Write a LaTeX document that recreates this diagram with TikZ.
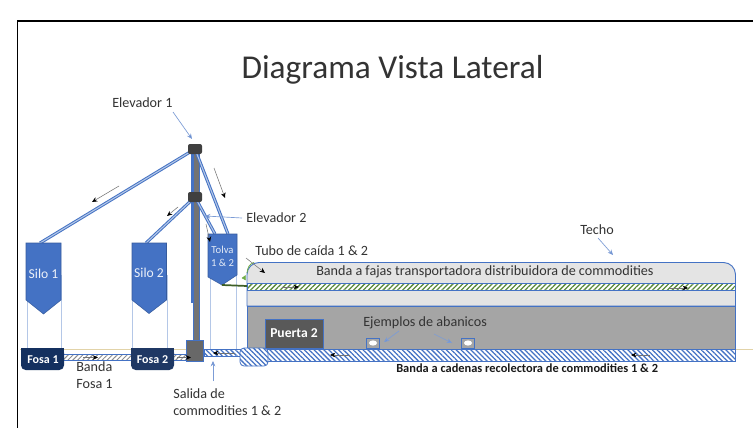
\documentclass[tikz,border=0pt]{standalone}
\usepackage{fontspec}
\setmainfont{Carlito}
\usetikzlibrary{patterns.meta,arrows.meta}
\definecolor{bl}{HTML}{4472C4}
\definecolor{lbl}{HTML}{B4C7E7}
\definecolor{dk}{HTML}{1F3864}
\definecolor{nv}{HTML}{14305F}
\definecolor{gr}{HTML}{A5A5A5}
\definecolor{lg}{HTML}{E4E4E4}
\definecolor{dg}{HTML}{595959}
\definecolor{grn}{HTML}{70AD47}
\definecolor{tanl}{HTML}{E2D3A8}
\tikzset{
 x=0.75pt,y=-0.75pt,
 lab/.style={font=\fontsize{10.6}{12.5}\selectfont,text=black!80,inner sep=0pt,align=left},
 lab2/.style={font=\fontsize{10.6}{12.6}\selectfont,text=black!80,inner sep=0pt,align=left},
 leader/.style={draw=bl!70,line width=.5pt,-{Stealth[length=4pt,width=3.5pt,fill=bl]}},
 flow/.style={draw=black!55,line width=.4pt,-{Stealth[length=4pt,width=3.5pt,black]}},
 hatchblue/.style={pattern={Lines[angle=-45,distance=2.6pt,line width=.95pt]},pattern color=bl},
 hatchgreen/.style={pattern={Lines[angle=45,distance=2.6pt,line width=.95pt]},pattern color=grn!80!black},
 hatchgray/.style={pattern={Lines[angle=45,distance=2.6pt,line width=.7pt]},pattern color=black!45},
 siloshape/.style={fill=bl,draw=bl!80!black,line width=.4pt},
 guide/.style={draw=lbl,line width=.5pt},
 fosatxt/.style={text=white,font=\fontsize{9}{10}\selectfont\bfseries,inner sep=0pt},
}
\begin{document}
\begin{tikzpicture}
\useasboundingbox (0,0) rectangle (753,428);
\fill[white] (0,0) rectangle (753,428);
\draw[black,line width=1.1pt] (17.5,428) -- (17.5,21) -- (753,21);
\draw[tanl,line width=.6pt] (20,349) -- (753,349);
% building
\draw[bl,fill=lg,line width=.7pt] (247,306) [rounded corners=9pt] -- (247,262.5) -- (735.5,262.5) [sharp corners] -- (735.5,306) -- cycle;
\draw[bl,fill=gr,line width=.7pt] (247,306) rectangle (735.5,349);
\fill[white] (247,283.5) rectangle (735.5,290);
\draw[bl,line width=.7pt,hatchgreen] (247,283.5) rectangle (735.5,290);
\node[fill=dg,draw=bl,line width=.5pt,minimum width=43.5pt,minimum height=21.75pt,inner sep=0pt,text=white,font=\fontsize{10.2}{11}\selectfont\bfseries] (p2) at (294,333.5) {Puerta 2};
% guides
\foreach \x in {27,61,132,167,210,236} \draw[guide] (\x,275) -- (\x,349);
% elevator
\draw[bl,fill=gr!70!black,line width=.6pt] (193,150) rectangle (199.7,342);
\fill[bl] (191,150) rectangle (193,303);
\coordinate (e1) at (195,149);\coordinate (e2) at (195,197);
\coordinate (s1) at (40,243);\coordinate (s2) at (146,243);
\coordinate (t1) at (228,234);\coordinate (t2) at (215,234);
\foreach \a/\b in {e1/s1,e2/s2,e1/t1,e2/t2}{
 \draw[bl,line width=2.3pt] (\a) -- (\b);
 \draw[lbl,line width=.8pt] (\a) -- (\b);
}
\fill[black!75,rounded corners=1.5pt] (188,144) rectangle (202,154);
\fill[black!75,rounded corners=1.5pt] (188,192) rectangle (202,202);
% silos
\path[siloshape] (26,243) -- (61,243) -- (61,300) -- (43.5,314) -- (26,300) -- cycle;
\node[text=white!90!bl,font=\fontsize{10.2}{12}\selectfont,inner sep=0pt] (silo1) at (43.5,274) {Silo 1};
\path[siloshape] (132,243) -- (166.5,243) -- (166.5,300) -- (149,313.5) -- (132,300) -- cycle;
\node[text=white!90!bl,font=\fontsize{10.2}{12}\selectfont,inner sep=0pt] (silo2) at (149,273) {Silo 2};
\path[siloshape] (208,234) -- (237,234) -- (237,275) -- (222,285) -- (208,277) -- cycle;
\node[text=white!85!bl,font=\fontsize{8}{9.8}\selectfont,align=center,inner sep=0pt] (tolva) at (222.5,256.5) {Tolva\\1 \& 2};
% drop tube
\draw[grn!55!black,line width=1.3pt] (222,285) -- (247,286);
\draw[grn,line width=.6pt] (254,262.5) .. controls (249,264) and (247.5,268) .. (247,273);
\draw[grn,fill=grn,line width=.3pt] (245.5,275.5) -- (245.5,280) -- (242,278) -- cycle;
% lower conveyors
\fill[white] (62,354) rectangle (186,360);
\draw[bl,line width=.6pt,hatchgray] (62,354) rectangle (132,360);
\draw[bl,line width=.6pt,hatchgray] (172,354) rectangle (187,360);
\fill[white] (204,349) rectangle (242,356);
\draw[bl,line width=.7pt,hatchblue] (204,349) rectangle (242,356);
\fill[white] (266,349) rectangle (735.5,361);
\draw[bl,line width=.7pt,hatchblue] (266,349) rectangle (735.5,361);
\fill[white,rounded corners=3pt] (240,348) rectangle (268,366);
\draw[bl,line width=.6pt,rounded corners=3pt,hatchblue] (240,348) rectangle (268,366);
% fosas
\fill[nv,rounded corners=3.5pt] (21,348) rectangle (64,370);
\fill[nv] (21,348) rectangle (64,358);
\node[fosatxt] (f1) at (43,359.5) {Fosa 1};
\fill[dk,rounded corners=3.5pt] (131,348) rectangle (174,370);
\fill[dk] (131,348) rectangle (174,358);
\node[fosatxt] (f2) at (152.5,359.5) {Fosa 2};
% elevator foot
\node[draw=bl,fill=dg!80!gr,line width=.7pt,minimum width=13.2pt,minimum height=15.7pt,inner sep=0pt] (foot) at (195,350.5) {};
% fans
\foreach \n/\x in {fa/373,fb/468}{
 \node[draw=bl,fill=gr,line width=.6pt,minimum width=10.2pt,minimum height=7.5pt,inner sep=0pt] (\n) at (\x,343) {};
 \fill[white] (\x,343) ellipse (4 and 2.6);
}
% flow arrows
\draw[flow] (119,186) -- (92,202);
\draw[flow] (178,207) -- (167,216);
\draw[flow] (214,168) -- (225,198);
\draw[flow] (206,224) -- (210,242);
\draw[flow] (83,357.5) -- (98,357.5);
\draw[flow] (177,357.5) -- (191,357.5);
\draw[flow] (235,353) -- (213,353);
\draw[flow] (350,355) -- (330,355);
\draw[flow] (650,355) -- (631,355);
\draw[flow] (282,287) -- (299,287);
\draw[flow] (670,288) -- (688,288);
\draw[flow] (246,258) -- (265,273);
% labels
\node[lab,anchor=west] (el1) at (112,102.5) {Elevador 1};
\node[lab,anchor=west] (el2) at (246,218) {Elevador 2};
\node[lab,anchor=west] (tubo) at (255,251) {Tubo de caída 1 \& 2};
\node[lab,anchor=west] (techo) at (580,230) {Techo};
\node[lab2,anchor=west] (bf) at (76,375) {Banda\\Fosa 1};
\node[lab2,anchor=west] (sal) at (173,402.5) {Salida de\\commodities 1 \& 2};
\node[lab,anchor=west] (eja) at (363,322.5) {Ejemplos de abanicos};
\node[lab,anchor=west] (bt) at (316,272) {Banda a fajas transportadora distribuidora de commodities};
\node[anchor=west,inner sep=0pt,font=\fontsize{9.3}{10}\selectfont\bfseries,text=black!90] (bc) at (396,368) {Banda a cadenas recolectora de commodities 1 \& 2};
\node[font=\fontsize{25}{30}\selectfont,text=black!80,inner sep=0pt] (title) at (392.5,70) {Diagrama Vista Lateral};
% leaders
\coordinate (le1a) at (173,112);\coordinate (le1b) at (192,139);
\coordinate (le2a) at (242,218);\coordinate (le2b) at (205,216);
\coordinate (lsa) at (213,381);\coordinate (lsb) at (213,361);
\coordinate (lta) at (598,238);\coordinate (ltb) at (613,255);
\coordinate (lfa) at (399,331);\coordinate (lfb) at (384,342);
\coordinate (lga) at (434,334);\coordinate (lgb) at (452,343);
\draw[leader] (le1a) -- (le1b);
\draw[leader] (le2a) -- (le2b);
\draw[leader] (lsa) -- (lsb);
\draw[leader] (lta) -- (ltb);
\draw[leader] (lfa) -- (lfb);
\draw[leader] (lga) -- (lgb);
\end{tikzpicture}
\end{document}
